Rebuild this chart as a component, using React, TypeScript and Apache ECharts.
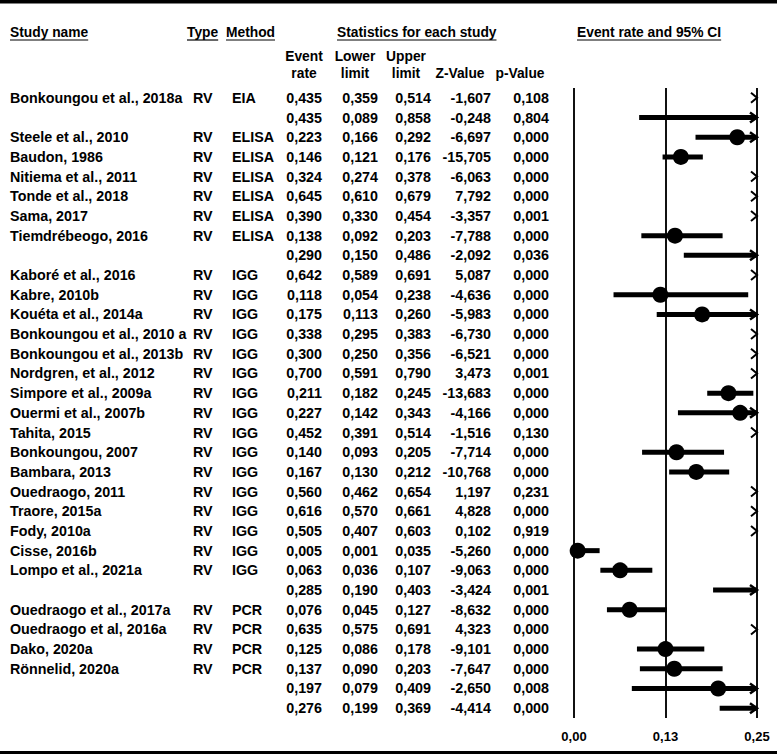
import React, { useEffect, useRef } from "react";
import * as echarts from "echarts";

// ---------- data ----------
const studyNames: string[] = [
  "Bonkoungou et al., 2018a", "",
  "Steele et al., 2010", "Baudon, 1986", "Nitiema et al., 2011", "Tonde et al., 2018",
  "Sama, 2017", "Tiemdrébeogo, 2016", "",
  "Kaboré et al., 2016", "Kabre, 2010b", "Kouéta et al., 2014a", "Bonkoungou et al., 2010 a",
  "Bonkoungou et al., 2013b", "Nordgren, et al., 2012", "Simpore et al., 2009a", "Ouermi et al., 2007b",
  "Tahita, 2015", "Bonkoungou, 2007", "Bambara, 2013", "Ouedraogo, 2011", "Traore, 2015a",
  "Fody, 2010a", "Cisse, 2016b", "Lompo et al., 2021a", "",
  "Ouedraogo et al., 2017a", "Ouedraogo et al, 2016a", "Dako, 2020a", "Rönnelid, 2020a", "", "",
];
const types: string[] = [
  "RV", "", "RV", "RV", "RV", "RV", "RV", "RV", "",
  "RV", "RV", "RV", "RV", "RV", "RV", "RV", "RV", "RV", "RV", "RV", "RV", "RV", "RV", "RV", "RV", "",
  "RV", "RV", "RV", "RV", "", "",
];
const methods: string[] = [
  "EIA", "", "ELISA", "ELISA", "ELISA", "ELISA", "ELISA", "ELISA", "",
  "IGG", "IGG", "IGG", "IGG", "IGG", "IGG", "IGG", "IGG", "IGG", "IGG", "IGG", "IGG", "IGG", "IGG", "IGG", "IGG", "",
  "PCR", "PCR", "PCR", "PCR", "", "",
];
const eventRates: number[] = [
  0.435, 0.435, 0.223, 0.146, 0.324, 0.645, 0.390, 0.138, 0.290,
  0.642, 0.118, 0.175, 0.338, 0.300, 0.700, 0.211, 0.227, 0.452, 0.140, 0.167, 0.560, 0.616, 0.505, 0.005, 0.063, 0.285,
  0.076, 0.635, 0.125, 0.137, 0.197, 0.276,
];
const lowerLimits: number[] = [
  0.359, 0.089, 0.166, 0.121, 0.274, 0.610, 0.330, 0.092, 0.150,
  0.589, 0.054, 0.113, 0.295, 0.250, 0.591, 0.182, 0.142, 0.391, 0.093, 0.130, 0.462, 0.570, 0.407, 0.001, 0.036, 0.190,
  0.045, 0.575, 0.086, 0.090, 0.079, 0.199,
];
const upperLimits: number[] = [
  0.514, 0.858, 0.292, 0.176, 0.378, 0.679, 0.454, 0.203, 0.486,
  0.691, 0.238, 0.260, 0.383, 0.356, 0.790, 0.245, 0.343, 0.514, 0.205, 0.212, 0.654, 0.661, 0.603, 0.035, 0.107, 0.403,
  0.127, 0.691, 0.178, 0.203, 0.409, 0.369,
];
const zValues: number[] = [
  -1.607, -0.248, -6.697, -15.705, -6.063, 7.792, -3.357, -7.788, -2.092,
  5.087, -4.636, -5.983, -6.730, -6.521, 3.473, -13.683, -4.166, -1.516, -7.714, -10.768, 1.197, 4.828, 0.102, -5.260, -9.063, -3.424,
  -8.632, 4.323, -9.101, -7.647, -2.650, -4.414,
];
const pValues: number[] = [
  0.108, 0.804, 0.000, 0.000, 0.000, 0.000, 0.001, 0.000, 0.036,
  0.000, 0.000, 0.000, 0.000, 0.000, 0.001, 0.000, 0.000, 0.130, 0.000, 0.000, 0.231, 0.000, 0.919, 0.000, 0.000, 0.001,
  0.000, 0.000, 0.000, 0.000, 0.008, 0.000,
];
const axisMin = 0;
const axisMax = 0.25;
const axisInterval = 0.125;

// ---------- helpers ----------
const FONT = '"Liberation Sans", Arial, Helvetica, sans-serif';
const BODY_SIZE = 14.3;
const BODY_WEIGHT = "bold";
const HEAD_SIZE = 13.8;

const fmt = (v: number) => v.toFixed(3).replace(".", ",");

function measure(text: string, size: number, weight: string) {
  const c = document.createElement("canvas").getContext("2d");
  if (!c) return text.length * size * 0.55;
  c.font = `${weight} ${size}px ${FONT}`;
  return c.measureText(text).width;
}

export default function App() {
  const ref = useRef<HTMLDivElement>(null);

  useEffect(() => {
    if (!ref.current) return;
    const chart = echarts.init(ref.current, undefined, { renderer: "svg" });
    const rows = studyNames.map((_, i) => String(i));

    const forestData = eventRates.map((p, i) => [p, i, lowerLimits[i], upperLimits[i]]);
    const tableData = studyNames.map((_, i) => [0, i]);

    const txt = (text: string, x: number, y: number, align: string, size = BODY_SIZE, weight = BODY_WEIGHT) => ({
      type: "text",
      style: {
        text, x, y, align, verticalAlign: "middle",
        fontSize: size, fontWeight: weight, fontFamily: FONT, fill: "#000",
      },
    });

    const headerY1 = 32;
    const underline = (text: string, x: number) => {
      const w = measure(text, HEAD_SIZE, "bold");
      return {
        type: "line",
        shape: { x1: x, y1: headerY1 + 8, x2: x + w, y2: headerY1 + 8 },
        style: { stroke: "#000", lineWidth: 1.2 },
      };
    };
    const headers: [string, number][] = [
      ["Study name", 10],
      ["Type", 187],
      ["Method", 226],
      ["Statistics for each study", 337],
      ["Event rate and 95% CI", 577],
    ];

    const graphics: any[] = [
      { type: "rect", shape: { x: 0, y: 0, width: 777, height: 3.5 }, style: { fill: "#000" } },
      { type: "rect", shape: { x: 0, y: 751, width: 777, height: 3 }, style: { fill: "#000" } },
    ];
    headers.forEach(([t, x]) => {
      graphics.push(txt(t, x, headerY1, "left", HEAD_SIZE, "bold"));
      graphics.push(underline(t, x));
    });
    const sub: [string, number, number][] = [
      ["Event", 304, 56], ["rate", 304, 73],
      ["Lower", 355, 56], ["limit", 355, 73],
      ["Upper", 406, 56], ["limit", 406, 73],
      ["Z-Value", 460, 73], ["p-Value", 520, 73],
    ];
    sub.forEach(([t, x, y]) => graphics.push(txt(t, x, y, "center", HEAD_SIZE, "bold")));

    chart.setOption({
      animation: false,
      backgroundColor: "#fff",
      grid: { left: 574, width: 183, top: 88, height: 630, containLabel: false },
      xAxis: {
        type: "value",
        min: axisMin,
        max: axisMax,
        interval: axisInterval,
        axisLine: { show: false },
        axisTick: { show: false },
        splitLine: { show: true, lineStyle: { color: "#111", width: 2 } },
        axisLabel: {
          formatter: (v: number) => v.toFixed(2).replace(".", ","),
          fontSize: 13,
          fontWeight: "bold",
          fontFamily: FONT,
          color: "#000",
          margin: 12,
        },
      },
      yAxis: {
        type: "category",
        data: rows,
        inverse: true,
        show: false,
      },
      graphic: graphics,
      series: [
        {
          type: "custom",
          name: "table",
          data: tableData,
          encode: { x: 0, y: 1 },
          clip: false,
          silent: true,
          renderItem: (params: any, api: any) => {
            const i = api.value(1);
            const y = api.coord([0, i])[1];
            return {
              type: "group",
              children: [
                txt(studyNames[i], 10, y, "left"),
                txt(types[i], 193, y, "left"),
                txt(methods[i], 232, y, "left"),
                txt(fmt(eventRates[i]), 322, y, "right"),
                txt(fmt(lowerLimits[i]), 378, y, "right"),
                txt(fmt(upperLimits[i]), 431, y, "right"),
                txt(fmt(zValues[i]), 491, y, "right"),
                txt(fmt(pValues[i]), 549, y, "right"),
              ],
            };
          },
        },
        {
          type: "custom",
          name: "forest",
          data: forestData,
          encode: { x: [0, 2, 3], y: 1 },
          clip: false,
          silent: true,
          renderItem: (params: any, api: any) => {
            const p = api.value(0);
            const i = api.value(1);
            const lo = api.value(2);
            const hi = api.value(3);
            const y = api.coord([0, i])[1];
            const xEnd = api.coord([axisMax, i])[0];
            const children: any[] = [];
            if (lo >= axisMax) {
              children.push({
                type: "polyline",
                shape: { points: [[xEnd - 6, y - 5], [xEnd, y], [xEnd - 6, y + 5]] },
                style: { stroke: "#000", lineWidth: 2, fill: null },
              });
            } else {
              const xl = api.coord([Math.max(lo, axisMin), i])[0];
              const xh = api.coord([Math.min(hi, axisMax), i])[0];
              children.push({
                type: "line",
                shape: { x1: xl, y1: y, x2: hi > axisMax ? xh - 1 : xh, y2: y },
                style: { stroke: "#000", lineWidth: 5 },
              });
              if (hi > axisMax) {
                children.push({
                  type: "polyline",
                  shape: { points: [[xEnd - 7, y - 5], [xEnd, y], [xEnd - 7, y + 5]] },
                  style: { stroke: "#000", lineWidth: 2.5, fill: null },
                });
              }
              if (p <= axisMax && p >= axisMin) {
                const c = api.coord([p, i]);
                children.push({
                  type: "circle",
                  shape: { cx: c[0], cy: c[1], r: 8 },
                  style: { fill: "#000" },
                });
              }
            }
            return { type: "group", children };
          },
        },
      ],
    });

    return () => chart.dispose();
  }, []);

  return (
    <div
      ref={ref}
      style={{ position: "absolute", left: 0, top: 0, width: 777, height: 755, background: "#fff" }}
    />
  );
}
